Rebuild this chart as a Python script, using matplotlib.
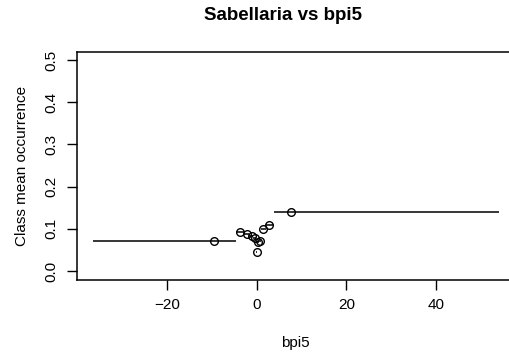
import matplotlib
matplotlib.use("Agg")
import matplotlib.pyplot as plt

# class ranges of bpi5 and the mean occurrence within each class
class_lo = [-36.5, -4.5, -2.8, -1.6, -0.7, -0.2, 0.2, 0.6, 1.0, 2.0, 3.9]
class_hi = [-4.5, -2.8, -1.6, -0.7, -0.2, 0.2, 0.6, 1.0, 2.0, 3.9, 54.0]
class_mid = [-9.4, -3.6, -2.1, -1.0, -0.4, 0.0, 0.3, 0.8, 1.5, 2.8, 7.7]
class_mean = [0.070, 0.093, 0.088, 0.084, 0.078, 0.045, 0.068, 0.070, 0.100, 0.108, 0.140]

xticks = [-20, 0, 20, 40]
yticks = [0.0, 0.1, 0.2, 0.3, 0.4, 0.5]

plt.rcParams['font.family'] = ['Liberation Sans', 'DejaVu Sans']

fig = plt.figure(figsize=(5.10, 3.56), dpi=100)
ax = fig.add_axes([0.1504, 0.2135, 0.8594, 0.6405])

ax.hlines(class_mean, class_lo, class_hi, color='black', lw=1.1)
ax.plot(class_mid, class_mean, 'o', mfc='none', mec='black', ms=5.5, mew=1.0)

ax.set_xlim(-40.1, 57.6)
ax.set_ylim(-0.0213, 0.519)
ax.set_xticks(xticks)
ax.set_xticklabels(['\u221220', '0', '20', '40'])
ax.set_yticks(yticks)
ax.set_yticklabels(['0.0', '0.1', '0.2', '0.3', '0.4', '0.5'], rotation=90, va='center')
ax.tick_params(direction='out', length=7, width=1, labelsize=11, pad=6)

for s in ax.spines.values():
    s.set_linewidth(1.1)

ax.set_xlabel('bpi5', fontsize=11, labelpad=17)
ax.set_ylabel('Class mean occurrence', fontsize=11, labelpad=11)
fig.text(283 / 510, 1 - 16 / 356, 'Sabellaria vs bpi5', fontsize=13.5,
         fontweight='bold', ha='center', va='center')

fig.savefig('out.png', dpi=100)
